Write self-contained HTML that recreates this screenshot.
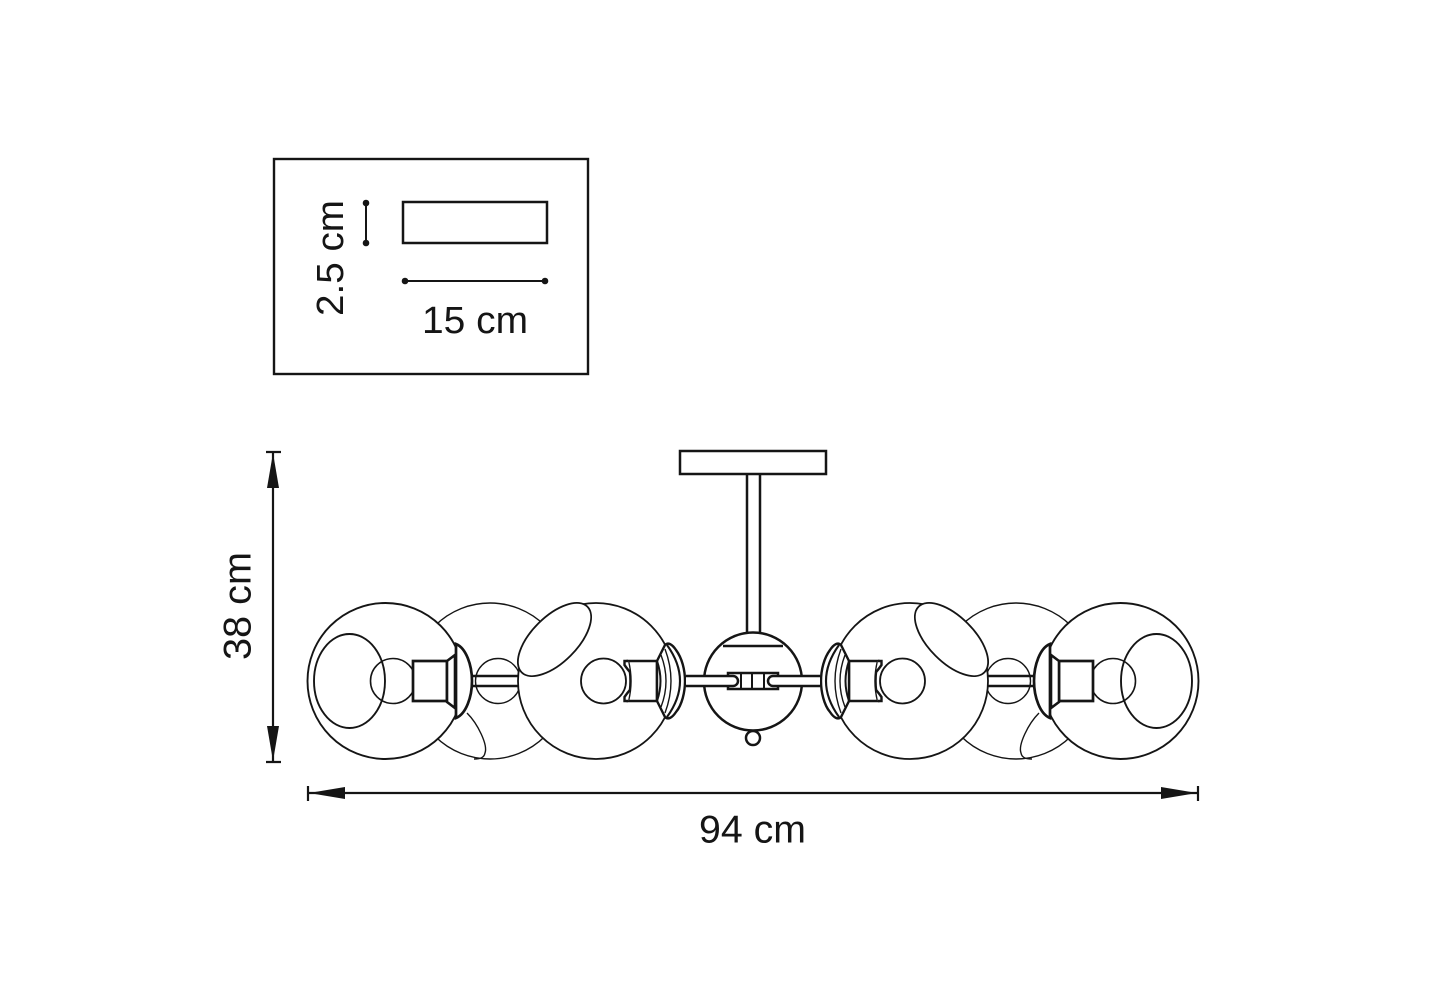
<!DOCTYPE html>
<html lang="en">
<head>
<meta charset="utf-8">
<title>Dimension diagram</title>
<style>
html,body{margin:0;padding:0;background:#fff;}
svg{display:block;}
text{font-family:"Liberation Sans",sans-serif;fill:#151515;}
</style>
</head>
<body>
<svg xmlns="http://www.w3.org/2000/svg" width="1429" height="1000" viewBox="0 0 1429 1000">
<rect width="1429" height="1000" fill="#fff"/>
<defs>
  <g id="half" stroke="#151515" fill="none">
    <!-- back globe -->
    <circle cx="490" cy="681" r="78" stroke-width="1.4" fill="#fff"/>
    <circle cx="498" cy="681" r="22.5" stroke-width="1.4"/>
    <path d="M467,713 C478,724 488,745 485,753 C484,758 480,759 474,759" stroke-width="1.4"/>
    <path d="M470,676 H520 M470,686 H520" stroke-width="2.6"/>
    <!-- front outer globe -->
    <circle cx="385.5" cy="681" r="78" stroke-width="1.9" fill="#fff"/>
    <ellipse cx="349.5" cy="681" rx="35.5" ry="47" stroke-width="1.9"/>
    <circle cx="393" cy="681" r="22.5" stroke-width="1.6"/>
    <rect x="413" y="661" width="34" height="40" stroke-width="2.7" fill="#fff"/>
    <path d="M447,661 L455,655 V708 L447,702 Z" stroke-width="2.6" fill="#fff"/>
    <path d="M456,644 C466,648 472,665 472,681 C472,697 466,714 456,718 Z" stroke-width="2.7" fill="#fff"/>
    <!-- front inner globe -->
    <circle cx="596" cy="681" r="78" stroke-width="1.8" fill="#fff"/>
    <ellipse cx="554.5" cy="639.5" rx="46.5" ry="22.8" transform="rotate(-45 554.5 639.5)" stroke-width="1.8" fill="#fff"/>
    <circle cx="603.5" cy="681" r="22.5" stroke-width="1.8"/>
    <path d="M628,661 H657 V701 H628 Q633,681 628,661 Z" stroke-width="2.5" fill="#fff"/>
    <path d="M628,661 H624.5 V665 Q628,670 630,672 M628,701 H624.5 V697 Q628,692 630,690" stroke-width="2.4" fill="#fff"/>
    <path d="M665,645 C668,642 672,644 676,650 C682,658 685,670 685,681 C685,692 682,705 676,712 C672,718 668,720 665,717 L657,701 V661 Z" stroke-width="2.4" fill="#fff"/>
    <path d="M657,661 Q664,681 657,701" stroke-width="2"/>
    <path d="M661,655 Q671,681 661,707" stroke-width="1.4"/>
    <path d="M665,649 Q677,681 665,713" stroke-width="1.4"/>
    <path d="M667,645 Q693,681 667,717" stroke-width="2.1"/>
  </g>
</defs>

<!-- ceiling plate and stem -->
<rect x="680" y="451" width="146" height="23" fill="#fff" stroke="#151515" stroke-width="2.5"/>
<path d="M747,474 V634 M760,474 V634" stroke="#151515" stroke-width="2.5" fill="none"/>

<!-- globes -->
<use href="#half"/>
<use href="#half" transform="matrix(-1 0 0 1 1506 0)"/>

<!-- centre hub -->
<circle cx="753" cy="738" r="7" fill="#fff" stroke="#151515" stroke-width="2.5"/>
<circle cx="753" cy="681.5" r="49" fill="#fff" stroke="#151515" stroke-width="2.5"/>
<path d="M723,646 H783" stroke="#151515" stroke-width="2.5"/>
<rect x="728" y="673" width="50" height="16" fill="#fff" stroke="#151515" stroke-width="2.5"/>
<path d="M741,673 V689 M752,673 V689 M764,673 V689" stroke="#151515" stroke-width="2"/>
<path d="M686,676 H733 a5,5 0 0 1 0,10 H686" fill="#fff" stroke="#151515" stroke-width="2.5"/>
<path d="M820,676 H773 a5,5 0 0 0 0,10 H820" fill="#fff" stroke="#151515" stroke-width="2.5"/>

<!-- overall dimensions -->
<g stroke="#151515" stroke-width="2.2" fill="none">
  <path d="M273,452 V762"/>
  <path d="M266,452 H281 M266,762 H281"/>
  <path d="M308,786 V801 M1198,786 V801"/>
  <path d="M308,793 H1198"/>
</g>
<g fill="#151515">
  <polygon points="273,453 279,488 267,488"/>
  <polygon points="273,761 279,726 267,726"/>
  <polygon points="309,793 345,787 345,799"/>
  <polygon points="1197,793 1161,787 1161,799"/>
</g>
<text transform="translate(250.5 660) rotate(-90)" font-size="39" textLength="108" lengthAdjust="spacingAndGlyphs">38 cm</text>
<text x="699" y="842.5" font-size="39" textLength="107" lengthAdjust="spacingAndGlyphs">94 cm</text>

<!-- section inset -->
<rect x="274" y="159" width="314" height="215" fill="#fff" stroke="#151515" stroke-width="2.4"/>
<rect x="403" y="202" width="144" height="41" fill="#fff" stroke="#151515" stroke-width="2.5"/>
<g stroke="#151515" stroke-width="2" fill="none">
  <path d="M366,203 V243"/>
  <path d="M405,281 H545"/>
</g>
<g fill="#151515">
  <circle cx="366" cy="203" r="3.3"/>
  <circle cx="366" cy="243" r="3.3"/>
  <circle cx="405" cy="281" r="3.3"/>
  <circle cx="545" cy="281" r="3.3"/>
</g>
<text transform="translate(343 316) rotate(-90)" font-size="38" textLength="116" lengthAdjust="spacingAndGlyphs">2.5 cm</text>
<text x="422" y="333" font-size="38" textLength="106" lengthAdjust="spacingAndGlyphs">15 cm</text>
</svg>
</body>
</html>
